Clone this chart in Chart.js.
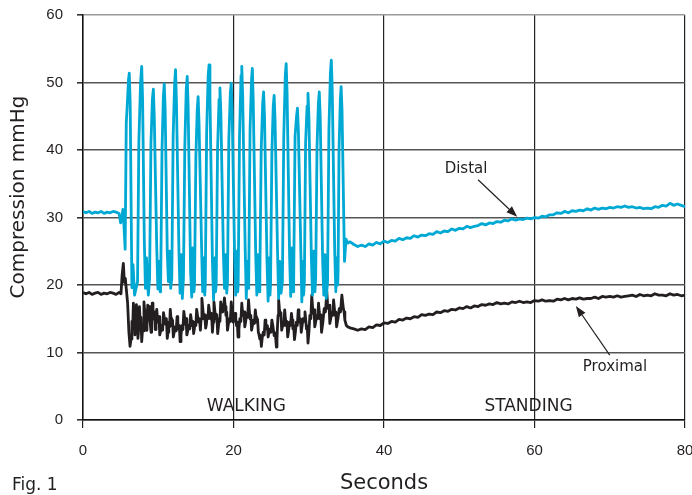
<!DOCTYPE html>
<html>
<head>
<meta charset="utf-8">
<script src="https://cdn.jsdelivr.net/npm/chart.js@4.4.0/dist/chart.umd.min.js"></script>
<style>
  html, body { margin: 0; padding: 0; background: #fff; }
  #wrap { position: relative; width: 692px; height: 495px; }
  #fig { position: absolute; left: 12px; top: 474px; font: 17px "DejaVu Sans", sans-serif; color: #231f20; }
</style>
</head>
<body>
<div id="wrap">
  <canvas id="c" width="692" height="495"></canvas>
  <div id="fig">Fig. 1</div>
</div>
<script>
/* Compression (mmHg) under the stocking, walking then standing.
   Traces, [seconds, mmHg]. */
var CYAN = "#00a8d4", INK = "#231f20";

var X_TICKS = [0, 20, 40, 60, 80];
var Y_TICKS = [0, 10, 20, 30, 40, 50, 60];
var Y_TITLE = "Compression mmHg";

var distalRest = [
  [0, 30.9], [0.4, 30.7], [0.8, 30.9], [1.2, 30.6], [1.6, 30.8], [2.0, 30.7], [2.4, 30.9],
  [2.8, 30.6], [3.2, 30.8], [3.6, 30.7], [4.0, 30.9], [4.4, 30.8], [4.8, 30.6], [5.0, 29.2],
  [5.15, 29.8], [5.3, 31.2]
];

var distalWalk = [
  [5.45,28.6],[5.6,25.3],[5.75,44.0],[5.92,47.5],[6.05,50.5],[6.15,51.4],[6.27,47.0],[6.5,19.6],[6.65,23.0],[6.85,18.5],
  [7.25,20.5],[7.42,41.2],[7.65,50.0],[7.8,52.4],[7.92,47.5],[8.15,26.4],[8.3,19.5],[8.45,24.0],[8.68,18.5],[8.85,21.0],
  [9.03,41.0],[9.22,47.5],[9.35,49.0],[9.47,45.0],[9.8,25.5],[9.95,19.4],[10.1,23.5],[10.25,19.0],[10.32,20.0],[10.5,40.0],
  [10.68,48.0],[10.8,49.8],[10.92,46.0],[11.2,24.8],[11.35,20.5],[11.5,25.0],[11.65,19.5],[11.8,21.0],[11.98,42.0],[12.18,50.0],
  [12.3,51.9],[12.42,47.0],[12.75,25.0],[12.9,18.8],[13.05,24.5],[13.2,18.0],[13.35,21.0],[13.53,40.5],[13.72,49.0],[13.85,50.9],
  [13.97,46.5],[14.3,22.0],[14.45,18.2],[14.6,25.5],[14.75,19.0],[14.82,20.0],[15.0,39.0],[15.18,46.0],[15.3,47.9],[15.42,44.0],
  [15.75,26.0],[15.9,19.0],[16.05,24.0],[16.18,18.5],[16.25,20.0],[16.43,42.5],[16.63,51.0],[16.75,52.6],[16.87,48.0],[17.2,23.5],
  [17.35,17.8],[17.5,24.0],[17.62,19.0],[17.7,20.0],[17.88,40.0],[18.08,47.5],[18.2,49.2],[18.32,45.5],[18.65,25.0],[18.8,19.5],
  [18.95,24.5],[19.1,18.8],[19.2,20.5],[19.38,41.5],[19.58,48.5],[19.7,49.9],[19.82,46.0],[20.15,24.0],[20.3,18.5],[20.45,25.0],
  [20.57,19.0],[20.62,20.0],[20.8,42.0],[21.0,51.0],[21.1,52.4],[21.22,48.0],[21.55,25.5],[21.7,18.0],[21.83,23.5],[21.95,19.5],
  [22.02,20.5],[22.2,43.0],[22.4,50.5],[22.5,52.1],[22.62,47.5],[22.95,24.5],[23.1,18.5],[23.25,24.5],[23.42,19.0],[23.5,21.0],
  [23.68,40.0],[23.88,47.0],[24.0,48.6],[24.12,45.0],[24.45,23.5],[24.6,17.6],[24.73,24.0],[24.85,18.5],[24.92,20.0],[25.1,39.5],
  [25.28,46.5],[25.4,48.1],[25.52,44.5],[25.85,25.0],[26.0,18.0],[26.15,23.5],[26.32,18.8],[26.5,20.5],[26.68,42.0],[26.88,51.0],
  [27.0,52.8],[27.12,48.5],[27.45,24.5],[27.6,18.3],[27.75,25.5],[27.92,19.0],[28.0,21.0],[28.18,42.0],[28.38,45.0],[28.5,46.2],
  [28.62,43.0],[28.95,25.0],[29.08,17.5],[29.2,23.5],[29.32,18.5],[29.42,20.5],[29.58,41.0],[29.78,46.5],[29.9,48.4],[30.02,45.0],
  [30.35,24.0],[30.5,18.5],[30.65,25.0],[30.82,19.0],[30.92,21.0],[31.1,40.5],[31.28,47.0],[31.4,48.6],[31.52,45.0],[31.85,23.5],
  [32.0,18.5],[32.15,24.5],[32.32,18.0],[32.5,20.5],[32.68,43.0],[32.88,51.5],[33.0,53.3],[33.12,49.0],[33.45,25.0],[33.6,19.0],
  [33.72,24.0],[33.85,20.0],[33.9,22.0],[34.02,40.0],[34.2,47.5],[34.3,49.4],[34.42,46.0],[34.75,23.5],[34.95,26.8],[35.2,26.2]
];

var distalStand = [
  [35.5,26.4],[36,26.0],[36.5,25.7],[37,25.9],[37.5,25.7],[38,26.1],[38.5,25.9],[39,26.3],[39.5,26.1],[40,26.5],
  [40.5,26.3],[41,26.6],[41.5,26.5],[42,26.9],[42.5,26.7],[43,27.0],[43.5,26.9],[44,27.3],[44.5,27.1],[45,27.4],
  [45.5,27.3],[46,27.6],[46.5,27.5],[47,27.9],[47.5,27.7],[48,28.0],[48.5,27.9],[49,28.3],[49.5,28.1],[50,28.4],
  [50.5,28.3],[51,28.7],[51.5,28.5],[52,28.7],[52.5,28.8],[53,29.1],[53.5,28.9],[54,29.2],[54.5,29.1],[55,29.4],
  [55.5,29.3],[56,29.6],[56.5,29.5],[57,29.8],[57.5,29.6],[58,29.8],[58.5,29.7],[59,29.9],[59.5,29.8],[60,30.0],
  [60.5,29.9],[61,30.2],[61.5,30.1],[62,30.4],[62.5,30.4],[63,30.7],[63.5,30.6],[64,30.9],[64.5,30.7],[65,31.0],
  [65.5,30.9],[66,31.1],[66.5,31.0],[67,31.3],[67.5,31.1],[68,31.4],[68.5,31.2],[69,31.4],[69.5,31.3],[70,31.5],
  [70.5,31.4],[71,31.6],[71.5,31.5],[72,31.7],[72.5,31.5],[73,31.6],[73.5,31.4],[74,31.5],[74.5,31.3],[75,31.4],
  [75.5,31.3],[76,31.6],[76.5,31.5],[77,31.8],[77.5,31.7],[78,32.1],[78.5,31.8],[79,32.0],[79.5,31.8],[80,31.6]
];

var proximalRest = [
  [0, 18.9], [0.4, 18.7], [0.8, 18.9], [1.2, 18.6], [1.6, 18.8], [2.0, 18.9], [2.4, 18.6],
  [2.8, 18.8], [3.2, 18.7], [3.6, 18.9], [4.0, 18.8], [4.4, 18.6], [4.8, 18.9], [5.05, 18.7]
];

var proximalWalk = [
  [5.2,21.5],[5.36,23.2],[5.5,20.4],[5.62,21.0],[5.93,17.3],[6.1,13.0],
  [6.25,10.9],[6.38,12.0],[6.5,14.6],[6.6,13.8],[6.7,17.3],[6.8,15.5],[6.9,12.6],[7.0,14.0],[7.1,17.1],[7.2,15.0],
  [7.3,12.1],[7.4,13.5],[7.5,16.8],[7.6,14.5],[7.7,15.2],[7.8,11.6],[7.95,14.0],[8.02,13.2],[8.1,17.5],[8.25,15.5],
  [8.32,16.2],[8.4,13.3],[8.5,14.2],[8.6,17.0],[8.75,16.0],[8.82,16.8],[8.9,14.6],[9.05,13.0],[9.12,14.5],[9.2,17.3],
  [9.3,15.8],[9.4,15.0],[9.5,16.0],[9.6,13.4],[9.7,14.5],[9.8,16.4],[9.9,15.0],[10.0,14.5],[10.1,15.3],[10.2,12.6],
  [10.32,13.2],[10.45,14.0],[10.58,13.3],[10.7,15.9],[10.82,15.0],[10.95,14.2],[11.08,15.0],[11.2,12.1],[11.3,13.0],[11.4,14.5],
  [11.5,13.8],[11.6,16.4],[11.7,15.0],[11.8,14.0],[11.9,14.8],[12.0,12.3],[12.12,13.0],[12.25,13.8],[12.38,13.2],[12.5,15.3],
  [12.6,14.5],[12.7,13.5],[12.8,14.0],[12.9,11.6],[13.02,12.5],[13.15,14.0],[13.28,13.4],[13.4,16.1],[13.5,15.2],[13.6,14.2],
  [13.7,15.0],[13.8,12.6],[13.92,13.2],[14.05,14.0],[14.18,13.5],[14.3,15.6],[14.4,14.8],[14.5,14.0],[14.6,14.6],[14.7,12.8],
  [14.8,13.5],[14.9,14.5],[15.0,14.0],[15.1,16.4],[15.22,15.5],[15.35,14.5],[15.48,15.0],[15.6,13.3],[15.7,15.0],[15.8,18.0],
  [15.92,16.5],[16.05,15.0],[16.18,15.6],[16.3,13.6],[16.4,14.2],[16.5,15.5],[16.6,15.0],[16.7,17.0],[16.82,16.0],[16.95,15.0],
  [17.08,15.8],[17.2,13.0],[17.3,14.5],[17.4,17.5],[17.52,16.2],[17.65,15.0],[17.78,15.6],[17.9,12.8],[18.0,13.8],[18.1,15.0],
  [18.2,14.6],[18.3,17.5],[18.42,16.5],[18.55,16.0],[18.68,16.8],[18.8,18.1],[18.9,16.8],[19.0,15.5],[19.1,16.0],[19.2,13.3],
  [19.32,14.2],[19.45,15.0],[19.58,14.6],[19.7,17.5],[19.82,16.0],[19.95,14.5],[20.08,15.0],[20.2,15.8],[20.3,15.0],[20.4,14.0],
  [20.5,14.5],[20.6,12.3],[20.72,13.5],[20.85,15.0],[20.98,14.6],[21.1,17.3],[21.2,16.0],[21.3,15.5],[21.4,16.0],[21.5,13.8],
  [21.62,14.6],[21.75,15.8],[21.88,15.2],[22.0,17.8],[22.1,16.2],[22.2,15.0],[22.3,15.5],[22.4,13.3],[22.52,14.0],[22.65,14.8],
  [22.78,14.3],[22.9,16.3],[23.0,15.2],[23.1,14.5],[23.2,14.9],[23.3,13.0],[23.4,12.6],[23.5,12.0],[23.6,12.5],[23.7,10.9],
  [23.82,12.2],[23.95,13.0],[24.08,12.6],[24.2,14.8],[24.3,14.0],[24.4,13.5],[24.5,14.0],[24.6,12.3],[24.72,13.0],[24.85,13.5],
  [24.98,13.0],[25.1,14.8],[25.25,13.8],[25.4,12.5],[25.55,12.9],[25.7,10.8],[25.78,12.0],[25.85,14.0],[25.92,15.5],[26.0,17.8],
  [26.1,16.5],[26.2,15.5],[26.3,15.9],[26.4,13.3],[26.5,13.8],[26.6,14.5],[26.7,14.0],[26.8,16.3],[26.9,15.0],[27.0,14.0],
  [27.1,14.6],[27.2,12.3],[27.32,13.2],[27.45,14.5],[27.58,14.0],[27.7,15.8],[27.8,14.8],[27.9,13.5],[28.0,14.0],[28.1,11.9],
  [28.22,13.0],[28.35,14.5],[28.48,14.0],[28.6,16.3],[28.7,15.5],[28.8,14.5],[28.9,15.0],[29.0,13.0],[29.12,14.0],[29.25,15.0],
  [29.38,14.6],[29.5,16.0],[29.6,14.8],[29.7,13.5],[29.8,13.9],[29.9,11.4],[30.02,13.0],[30.15,15.5],[30.28,15.0],[30.4,18.5],
  [30.5,16.8],[30.6,15.8],[30.7,16.3],[30.8,13.8],[30.92,14.5],[31.05,15.5],[31.18,15.0],[31.3,17.3],[31.4,16.0],[31.5,15.0],
  [31.6,15.6],[31.7,13.0],[31.88,14.5],[32.05,16.5],[32.22,16.0],[32.4,19.0],[32.5,17.2],[32.6,16.5],[32.7,17.0],[32.8,14.3],
  [32.92,15.0],[33.05,16.0],[33.18,15.5],[33.3,17.8],[33.4,16.6],[33.5,15.5],[33.6,16.0],[33.7,13.8],[33.88,15.0],[34.05,16.5],
  [34.22,16.0],[34.4,18.5],[34.5,17.5],[34.6,16.5],[34.7,16.0],[34.8,14.8],[35.0,14.0],[35.2,13.8],[35.6,13.6]
];

var proximalStand = [
  [36,13.5],[36.5,13.3],[37,13.5],[37.5,13.4],[38,13.8],[38.5,13.7],[39,14.1],[39.5,14.0],[40,14.4],[40.5,14.3],
  [41,14.6],[41.5,14.5],[42,14.9],[42.5,14.8],[43,15.1],[43.5,15.0],[44,15.3],[44.5,15.2],[45,15.6],[45.5,15.5],
  [46,15.7],[46.5,15.6],[47,16.0],[47.5,15.9],[48,16.2],[48.5,16.1],[49,16.4],[49.5,16.3],[50,16.6],[50.5,16.5],
  [51,16.8],[51.5,16.6],[52,16.9],[52.5,16.8],[53,17.1],[53.5,17.0],[54,17.2],[54.5,17.1],[55,17.4],[55.5,17.2],
  [56,17.3],[56.5,17.2],[57,17.5],[57.5,17.4],[58,17.6],[58.5,17.4],[59,17.5],[59.5,17.4],[60,17.7],[60.5,17.6],
  [61,17.8],[61.5,17.6],[62,17.7],[62.5,17.6],[63,17.9],[63.5,17.8],[64,18.0],[64.5,17.8],[65,18.0],[65.5,17.9],
  [66,18.1],[66.5,17.9],[67,18.0],[67.5,18.0],[68,18.2],[68.5,18.0],[69,18.3],[69.5,18.2],[70,18.3],[70.5,18.2],
  [71,18.4],[71.5,18.2],[72,18.3],[72.5,18.4],[73,18.5],[73.5,18.3],[74,18.6],[74.5,18.4],[75,18.5],[75.5,18.4],
  [76,18.7],[76.5,18.5],[77,18.5],[77.5,18.4],[78,18.7],[78.5,18.5],[79,18.6],[79.5,18.4],[80,18.5]
];

/* text notes inside the plot, in data units */
var phaseNotes = [
  { text: "WALKING",  x: 21.7, y: 2.0 },
  { text: "STANDING", x: 59.2, y: 2.0 }
];
var arrowNotes = [
  { text: "Distal",   tx: 50.9, ty: 37.2, from: [52.5, 35.6], to: [57.7, 30.1] },
  { text: "Proximal", tx: 70.7, ty: 7.8,  from: [70.0, 9.6],  to: [65.5, 16.9] }
];

function pts(a) { return a.map(function (p) { return { x: p[0], y: p[1] }; }); }

var notesPlugin = {
  id: "notes",
  afterDatasetsDraw: function (chart) {
    var ctx = chart.ctx, xs = chart.scales.x, ys = chart.scales.y;
    ctx.save();
    ctx.fillStyle = INK;
    ctx.textAlign = "center";
    ctx.textBaseline = "middle";
    ctx.font = '17px "DejaVu Sans", sans-serif';
    phaseNotes.forEach(function (n) {
      ctx.fillText(n.text, xs.getPixelForValue(n.x), ys.getPixelForValue(n.y));
    });
    ctx.font = '15px "DejaVu Sans", sans-serif';
    arrowNotes.forEach(function (n) {
      ctx.fillText(n.text, xs.getPixelForValue(n.tx), ys.getPixelForValue(n.ty));
      var x1 = xs.getPixelForValue(n.from[0]), y1 = ys.getPixelForValue(n.from[1]);
      var x2 = xs.getPixelForValue(n.to[0]), y2 = ys.getPixelForValue(n.to[1]);
      var ang = Math.atan2(y2 - y1, x2 - x1), L = 11, W = 4;
      ctx.strokeStyle = INK; ctx.lineWidth = 1.2;
      ctx.beginPath();
      ctx.moveTo(x1, y1);
      ctx.lineTo(x2 - L * Math.cos(ang), y2 - L * Math.sin(ang));
      ctx.stroke();
      ctx.beginPath();
      ctx.moveTo(x2, y2);
      ctx.lineTo(x2 - L * Math.cos(ang) + W * Math.sin(ang), y2 - L * Math.sin(ang) - W * Math.cos(ang));
      ctx.lineTo(x2 - L * Math.cos(ang) - W * Math.sin(ang), y2 - L * Math.sin(ang) + W * Math.cos(ang));
      ctx.closePath();
      ctx.fill();
    });
    // y axis title, sitting a little above the plot's middle as in the figure
    ctx.translate(19, 197);
    ctx.rotate(-Math.PI / 2);
    ctx.font = '20px "DejaVu Sans", sans-serif';
    ctx.fillText(Y_TITLE, 0, 0);
    ctx.restore();
  }
};

new Chart(document.getElementById("c"), {
  type: "line",
  data: {
    datasets: [
      { label: "Distal", data: pts(distalRest.concat(distalWalk, distalStand)),
        borderColor: CYAN, borderWidth: 2.8, pointRadius: 0, tension: 0, borderJoinStyle: "round" },
      { label: "Proximal", data: pts(proximalRest.concat(proximalWalk, proximalStand)),
        borderColor: INK, borderWidth: 2.8, pointRadius: 0, tension: 0, borderJoinStyle: "round" }
    ]
  },
  options: {
    responsive: false,
    animation: false,
    devicePixelRatio: 1,
    layout: { padding: { top: 15, right: 7, left: 0, bottom: 0 } },
    plugins: { legend: { display: false }, tooltip: { enabled: false } },
    scales: {
      x: {
        type: "linear", min: 0, max: 80,
        afterBuildTicks: function (s) { s.ticks = X_TICKS.map(function (v) { return { value: v }; }); },
        afterFit: function (s) { s.height = 75; s.paddingLeft = 0; s.paddingRight = 0; },
        ticks: { padding: 14, color: INK, font: { family: "Liberation Sans", size: 15 } },
        grid: { color: "#222", lineWidth: 1.2, tickLength: 8, tickColor: "#222" },
        border: { color: "#111", width: 1.5 },
        title: { display: true, text: "Seconds", color: INK, padding: 0,
          font: { family: "DejaVu Sans", size: 21, lineHeight: 1.05 } }
      },
      y: {
        min: 0, max: 60,
        afterBuildTicks: function (s) { s.ticks = Y_TICKS.map(function (v) { return { value: v }; }); },
        afterFit: function (s) { s.width = 83; s.paddingTop = 0; s.paddingBottom = 0; },
        ticks: { padding: 14, color: INK, font: { family: "Liberation Sans", size: 15 } },
        grid: {
          color: function (c) { return c.tick && c.tick.value === 60 ? "#9a9a9a" : "#555"; },
          lineWidth: 1.6, tickLength: 6, tickColor: "#333"
        },
        border: { color: "#111", width: 1.5 }
      }
    }
  },
  plugins: [notesPlugin]
});
</script>
</body>
</html>
